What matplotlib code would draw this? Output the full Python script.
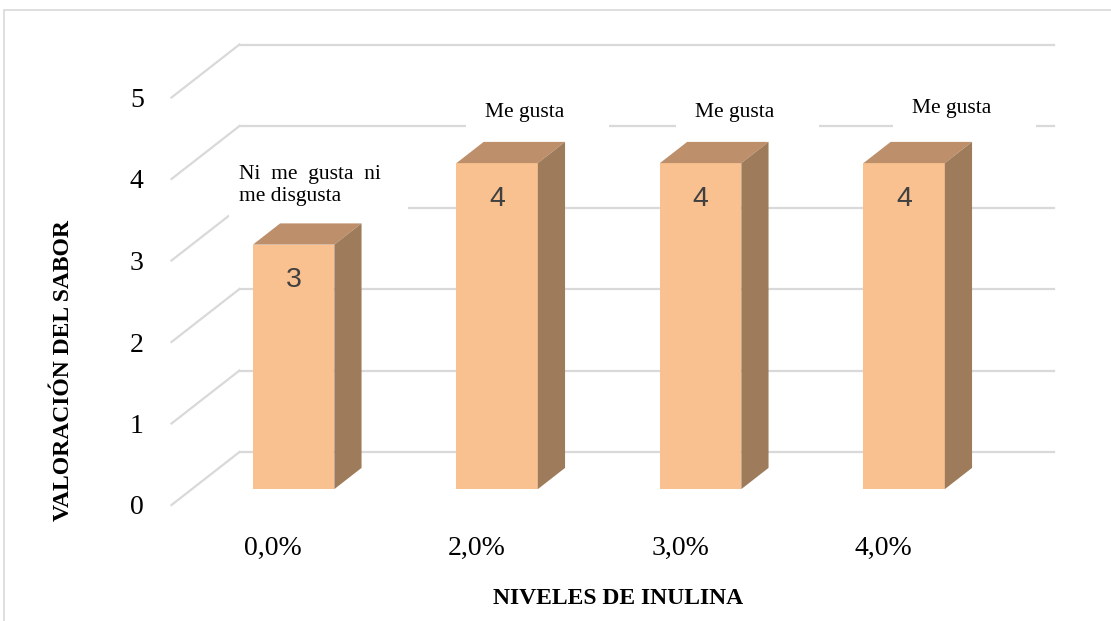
import matplotlib.pyplot as plt
from matplotlib.patches import Polygon, Rectangle

# datos del gráfico
niveles = ['0,0%', '2,0%', '3,0%', '4,0%']
valoracion = [3, 4, 4, 4]
etiquetas = ['Ni  me  gusta  ni\nme disgusta', 'Me gusta', 'Me gusta', 'Me gusta']

# escala en pixeles de una categoria y de una unidad de valor
PX_X = 203.5
PX_Y = 81.5
# profundidad de la pared del fondo (en unidades de datos)
DX = 68 / PX_X
DY = 53 / PX_Y
# la barra ocupa de d0 a d1 dentro de la profundidad
D0, D1 = 0.30, 0.70
ANCHO = 0.2

c_frente = '#F9C18F'
c_arriba = '#BE8F6B'
c_lado = '#9E7B5A'
c_grid = '#D9D9D9'

fig = plt.figure(figsize=(11.11, 6.21), dpi=100)
ax = fig.add_axes([171.5 / 1111, 116 / 621, 814 / 1111, 407.5 / 621])
ax.set_xlim(-0.5, 3.5)
ax.set_ylim(0, 5)
for s in ax.spines.values():
    s.set_visible(False)


def p(x, y, d):
    return (x + d * DX, y + d * DY)


# lineas de la pared del fondo y del lado izquierdo
for k in range(6):
    ax.plot(*zip(p(-0.5, k, 1), p(3.5, k, 1)), color=c_grid, lw=1.6,
            clip_on=False, zorder=1)
    ax.plot(*zip(p(-0.5, k, 0), p(-0.5, k, 1)), color=c_grid, lw=1.6,
            clip_on=False, zorder=1)

# barras 3D: frente, tapa y lado
for i, v in enumerate(valoracion):
    x0, x1 = i - ANCHO, i + ANCHO
    frente = [p(x0, 0, D0), p(x1, 0, D0), p(x1, v, D0), p(x0, v, D0)]
    tapa = [p(x0, v, D0), p(x1, v, D0), p(x1, v, D1), p(x0, v, D1)]
    lado = [p(x1, 0, D0), p(x1, 0, D1), p(x1, v, D1), p(x1, v, D0)]
    for pts, col in [(frente, c_frente), (tapa, c_arriba), (lado, c_lado)]:
        ax.add_patch(Polygon(pts, closed=True, facecolor=col, edgecolor='none',
                             clip_on=False, zorder=3))
    cx, cy = p(i, v - 0.44, D0)
    ax.text(cx, cy, str(v), ha='center', va='center', fontsize=20.5,
            family='Liberation Sans', color='#404040', zorder=5)

# posiciones de las etiquetas de texto (desplazamiento desde la categoria)
lab_dx = [0.18, 0.237, 0.269, 0.333]
lab_y = [3.92, 4.82, 4.82, 4.86]
# cajas blancas detras de las etiquetas (px: izquierda, derecha, abajo, arriba)
caja_px = [(-81, 98, -38, 25), (-59, 84, -26, 13), (-59, 84, -26, 13),
           (-59, 84, -26, 13)]

for i, txt in enumerate(etiquetas):
    lx = i + lab_dx[i]
    ly = lab_y[i]
    l, r, b, t = caja_px[i]
    ax.add_patch(Rectangle((lx + l / PX_X, ly + b / PX_Y), (r - l) / PX_X,
                           (t - b) / PX_Y, facecolor='white', edgecolor='none',
                           clip_on=False, zorder=2))
    ax.text(lx, ly, txt, ha='center', va='center', fontsize=15.5,
            family='Liberation Serif', linespacing=1.15, zorder=5,
            multialignment='left')

ax.set_xticks(range(len(niveles)))
ax.set_xticklabels(niveles, family='Liberation Serif', fontsize=20)
ax.set_yticks(range(6))
ax.set_yticklabels([str(k) for k in range(6)], family='Liberation Serif',
                   fontsize=20)
ax.tick_params(axis='x', length=0, pad=22)
ax.tick_params(axis='y', length=0, pad=20)

ax.set_xlabel('NIVELES DE INULINA', family='Liberation Serif',
              fontweight='bold', fontsize=17)
ax.xaxis.set_label_coords(0.5485, -0.204)
ax.set_ylabel('VALORACIÓN DEL SABOR', family='Liberation Serif',
              fontweight='bold', fontsize=17)
ax.yaxis.set_label_coords(-0.12, 0.331)

# marco del area del grafico
fig.patches.append(Rectangle((4 / 1111, -0.1), 1.2, (611 / 621) + 0.1,
                             transform=fig.transFigure, facecolor='none',
                             edgecolor=c_grid, lw=1.2))

fig.savefig('out.png', dpi=100)
